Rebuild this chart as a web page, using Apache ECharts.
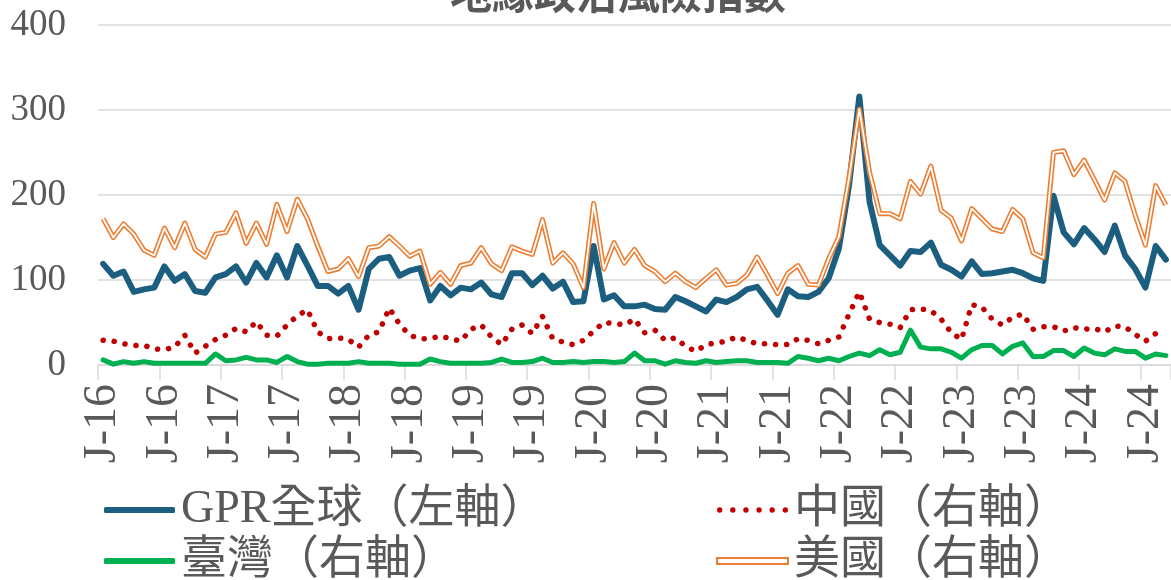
<!DOCTYPE html>
<html>
<head>
<meta charset="utf-8">
<script src="https://cdn.jsdelivr.net/npm/echarts@6/dist/echarts.min.js"></script>
<style>
  html, body { margin: 0; padding: 0; background: #fff; }
  #chart { width: 1171px; height: 580px; }
</style>
</head>
<body>
<div id="chart"></div>
<script>
// Monthly categories, Jan 2016 – Sep 2024
const months = [];
for (let y = 2016; y <= 2024; y++) {
  for (let m = 1; m <= 12; m++) {
    if (y === 2024 && m > 9) break;
    months.push(y + '-' + String(m).padStart(2, '0'));
  }
}

// Geopolitical risk indices
const gprGlobal = [119,105,110,86,89,91,116,99,107,87,85,103,107,116,97,120,103,129,103,140,117,93,93,84,93,65,113,125,127,105,111,114,76,93,82,91,89,97,83,80,108,108,94,105,90,98,74,75,140,77,82,69,69,71,66,65,80,75,69,63,77,74,80,89,92,76,59,89,81,80,86,102,137,212,316,192,141,129,117,134,133,144,118,112,104,122,107,108,110,112,108,102,99,199,156,142,161,148,133,164,129,113,91,140,124];
const china = [29,28,25,23,23,19,18,21,35,14,22,30,35,43,39,51,35,34,47,58,65,39,31,32,30,21,35,39,67,48,35,31,31,34,31,28,42,47,33,24,42,47,37,57,31,27,24,29,40,50,49,47,54,38,41,29,32,22,16,24,26,28,33,29,25,25,24,24,31,29,25,29,33,60,86,54,50,48,44,65,66,64,54,38,30,71,68,54,47,56,60,42,45,45,40,44,42,43,39,46,45,36,28,37,38];
const taiwan = [6,1,4,2,4,2,2,2,2,2,2,13,5,6,9,6,6,3,10,4,1,1,2,2,2,4,2,2,2,1,1,1,7,4,2,2,2,2,3,7,3,3,4,8,3,3,4,3,4,4,3,4,14,5,5,1,5,3,2,5,3,4,5,5,3,3,3,2,10,8,5,8,5,10,14,11,18,12,15,41,21,19,19,15,8,18,23,23,13,22,26,10,10,17,17,10,20,14,12,19,16,16,8,13,11];
const usa = [172,150,166,154,135,129,161,138,167,136,127,154,156,179,143,167,142,189,157,195,172,140,110,113,125,104,138,140,151,140,128,134,95,109,95,117,120,138,119,111,139,134,130,171,120,132,119,91,190,113,144,120,136,117,110,98,108,98,91,102,112,94,96,106,127,106,84,108,117,95,94,125,151,221,301,227,178,178,172,216,201,234,182,173,146,184,172,160,157,183,172,132,126,250,252,224,241,218,194,226,216,176,141,211,188];

// Axis ticks
const yTicks = [0, 100, 200, 300, 400];

const names = {
  gpr: 'GPR全球（左軸）',
  cn: '中國（右軸）',
  tw: '臺灣（右軸）',
  us: '美國（右軸）'
};

const C = {
  text: '#595959',
  grid: '#D9D9D9',
  gpr: '#1B5E80',
  cn: '#C00000',
  tw: '#00B050',
  us: '#ED7D31'
};

const serif = "'Liberation Serif', 'Times New Roman', serif";
const mixed = "'Liberation Serif', 'Noto Sans CJK TC', sans-serif";

// six small dots for the dotted-line legend key
const dotsIcon = 'path://' + [0, 1, 2, 3, 4, 5].map(function (k) {
  const cx = 2.5 + 12.2 * k;
  return 'M' + (cx - 2.5) + ',2.5a2.5,2.5 0 1,0 5,0a2.5,2.5 0 1,0 -5,0z';
}).join('');

const legendBase = {
  orient: 'vertical',
  top: 487,
  height: 200,
  padding: 0,
  itemWidth: 71,
  itemHeight: 6,
  itemGap: 5,
  symbolKeepAspect: true,
  selectedMode: false,
  itemStyle: { borderWidth: 0 },
  textStyle: { color: C.text, fontSize: 46, fontFamily: mixed, lineHeight: 46, padding: [0, 0, 0, 1] }
};

const chart = echarts.init(document.getElementById('chart'));
chart.setOption({
  animation: false,
  backgroundColor: '#fff',
  title: {
    text: '地緣政治風險指數',
    left: 445,
    top: -33,
    textStyle: { color: C.text, fontSize: 42, fontWeight: 'bold', fontFamily: "'Noto Sans CJK TC', sans-serif" }
  },
  grid: { left: 98, right: 0, top: 25, bottom: 215, containLabel: false },
  legend: [
    Object.assign({}, legendBase, {
      left: 104,
      data: [
        { name: names.gpr, icon: 'roundRect' },
        { name: names.tw, icon: 'roundRect' }
      ]
    }),
    Object.assign({}, legendBase, {
      left: 716,
      data: [
        { name: names.cn, icon: dotsIcon },
        { name: names.us, icon: 'emptyRect' }
      ]
    })
  ],
  xAxis: {
    type: 'category',
    data: months,
    boundaryGap: true,
    axisLine: { show: true, lineStyle: { color: C.grid, width: 1.5 } },
    axisTick: { show: true, interval: 5, length: 15, lineStyle: { color: C.grid, width: 1.5 } },
    axisLabel: {
      interval: 5,
      rotate: 90,
      margin: 19,
      color: C.text,
      fontSize: 46,
      fontFamily: serif,
      formatter: function (v) { return 'J-' + v.slice(2, 4); }
    },
    splitLine: { show: false }
  },
  yAxis: [
    {
      type: 'value',
      min: yTicks[0],
      max: yTicks[yTicks.length - 1],
      interval: 100,
      axisLine: { show: false },
      axisTick: { show: false },
      axisLabel: { color: C.text, fontSize: 37, fontFamily: serif, margin: 32 },
      splitLine: { lineStyle: { color: C.grid, width: 1.5 } }
    },
    {
      type: 'value',
      min: yTicks[0],
      max: yTicks[yTicks.length - 1],
      interval: 100,
      show: false,
      splitLine: { show: false }
    }
  ],
  series: [
    {
      name: names.gpr, type: 'line', data: gprGlobal, yAxisIndex: 0,
      showSymbol: false, symbol: 'none',
      lineStyle: { color: C.gpr, width: 6, cap: 'round', join: 'round' },
      itemStyle: { color: C.gpr }
    },
    {
      name: names.cn, type: 'line', data: china, yAxisIndex: 1,
      showSymbol: false, symbol: 'none',
      lineStyle: { color: C.cn, width: 5.5, type: [0.1, 11], cap: 'round', join: 'round' },
      itemStyle: { color: C.cn }
    },
    {
      name: names.tw, type: 'line', data: taiwan, yAxisIndex: 1,
      showSymbol: false, symbol: 'none',
      lineStyle: { color: C.tw, width: 5, cap: 'round', join: 'round' },
      itemStyle: { color: C.tw }
    },
    {
      name: names.us, type: 'line', data: usa, yAxisIndex: 1,
      showSymbol: false, symbol: 'none',
      lineStyle: { color: C.us, width: 5, join: 'round' },
      itemStyle: { color: C.us }
    },
    {
      // inner stroke that turns the US line into a double line
      name: 'usInner', type: 'line', data: usa, yAxisIndex: 1,
      showSymbol: false, symbol: 'none', silent: true,
      lineStyle: { color: '#ffffff', width: 1.8, join: 'round' },
      itemStyle: { color: '#ffffff' }
    }
  ]
});
</script>
</body>
</html>
